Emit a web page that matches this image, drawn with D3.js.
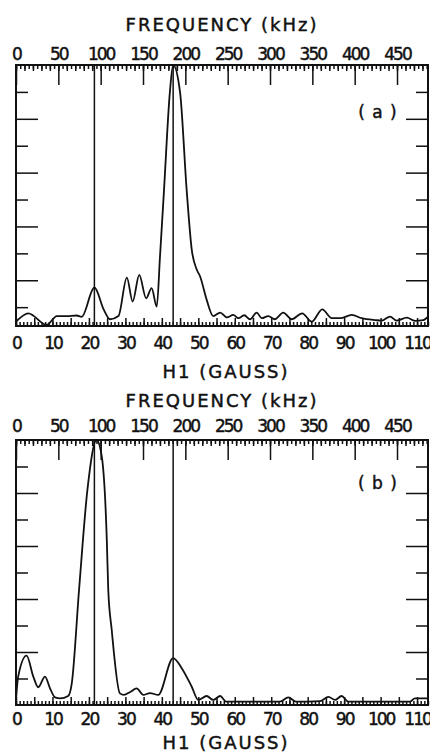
<!DOCTYPE html>
<meta charset="utf-8">
<script src="https://d3js.org/d3.v7.min.js"></script>
<style>
  body { margin: 0; background: #fff; }
  text { font-family: "DejaVu Sans", sans-serif; fill: #111; stroke: #111; stroke-width: 0.45px; }
</style>
<div id="chart"></div>
<script>

// tick labels
var freqTicks = [0, 50, 100, 150, 200, 250, 300, 350, 400, 450];
var h1Ticks = [0, 10, 20, 30, 40, 50, 60, 70, 80, 90, 100, 110];

// vertical marker lines (H1, gauss)
var markerH1 = [21.5, 43.1];

// panel (a): H1 (gauss) and relative amplitude
var aH1 = [0, 3.4, 8.4, 11.2, 13.9, 16.6, 18.0, 21.5, 24.1, 25.8, 28.1, 30.4, 32.0, 33.8, 35.7, 37.2, 38.6,
  39.5, 40.6, 42.2, 43.1, 45.0, 46.8, 48.2, 49.6, 50.5, 52.3, 54.1, 56.0, 57.8, 59.6, 61.0, 62.6, 64.2,
  66.0, 67.4, 69.2, 71.0, 73.3, 75.6, 78.5, 81.1, 84.0, 86.6, 88.9, 92.1, 94.8, 98.5, 100.3, 102.6,
  104.4, 107.2, 109.4, 111.7, 113];
var aAmp = [0.046, 0.077, 0.034, 0.067, 0.067, 0.069, 0.064, 0.173, 0.09, 0.055, 0.067, 0.21, 0.121, 0.22, 0.133, 0.171, 0.102,
  0.289, 0.537, 0.898, 1.0, 0.898, 0.537, 0.314, 0.239, 0.214, 0.127, 0.067, 0.08, 0.062, 0.071, 0.059, 0.07, 0.055,
  0.08, 0.059, 0.067, 0.055, 0.08, 0.055, 0.077, 0.046, 0.092, 0.059, 0.059, 0.071, 0.059, 0.052, 0.05, 0.065,
  0.05, 0.061, 0.049, 0.052, 0.065];

// panel (b)
var bH1 = [0, 0.6, 2.9, 4.75, 6.1, 7.95, 9.3, 10.7, 12.1, 14.3, 15.3, 17.3, 19.6, 22.1, 23.5, 24.9, 25.3, 26.25,
  28.5, 29.6, 31.3, 33.1, 34.9, 36.75, 39.0, 43.1, 45.45, 48.2, 50.0, 52.3, 54.1, 56.0, 57.6, 72.4, 74.7, 76.8,
  83.4, 85.7, 87.5, 89.3, 91.1, 108.1, 109.4, 113];
var bAmp = [0.02, 0.107, 0.186, 0.107, 0.067, 0.107, 0.064, 0.029, 0.025, 0.034, 0.082, 0.436, 0.814, 1.0, 0.94, 0.625, 0.436, 0.284,
  0.044, 0.038, 0.049, 0.063, 0.038, 0.045, 0.038, 0.177, 0.139, 0.069, 0.019, 0.034, 0.019, 0.034, 0.013, 0.013, 0.029, 0.013,
  0.015, 0.031, 0.019, 0.034, 0.013, 0.013, 0.025, 0.025];

var W = 430, H = 752;
var svg = d3.select("#chart").append("svg")
  .attr("width", W).attr("height", H);

var x = d3.scaleLinear().domain([0, 113]).range([16, 428]);
var xf = d3.scaleLinear().domain([0, 486.6]).range([16, 428]);

var panels = [
  {tag: "( a )", h1: aH1, amp: aAmp, top: 65, bottom: 326, ymin: 0.03,
   titleY: 31, topPad: 5, botPad: 11, gaussY: 378, tagY: 118},
  {tag: "( b )", h1: bH1, amp: bAmp, top: 440, bottom: 705, ymin: 0,
   titleY: 407, topPad: 8, botPad: 8, gaussY: 749, tagY: 489}
];

function styleAxis(g) {
  g.select(".domain").remove();
  g.selectAll("line").attr("stroke", "#111").attr("stroke-width", 1.5);
  g.selectAll("text")
    .style("font-family", "DejaVu Sans, sans-serif")
    .style("font-size", "17px")
    .style("letter-spacing", "-2px")
    .attr("fill", "#111");
}

panels.forEach(function(p) {
  var y = d3.scaleLinear().domain([p.ymin, 1]).range([p.bottom, p.top]);
  var g = svg.append("g");

  // top frequency axis: 5 kHz, 10 kHz and 50 kHz ticks hanging inside
  g.append("g").attr("transform", "translate(0," + p.top + ")")
    .call(d3.axisTop(xf).tickValues(d3.range(0, 487, 5)).tickSize(-4).tickFormat(""))
    .call(styleAxis);
  g.append("g").attr("transform", "translate(0," + p.top + ")")
    .call(d3.axisTop(xf).tickValues(d3.range(0, 487, 10)).tickSize(-6).tickFormat(""))
    .call(styleAxis);
  g.append("g").attr("transform", "translate(0," + p.top + ")")
    .call(d3.axisTop(xf).tickValues(freqTicks).tickSizeInner(-20).tickSizeOuter(0).tickPadding(p.topPad))
    .call(styleAxis);

  // bottom H1 axis
  g.append("g").attr("transform", "translate(0," + p.bottom + ")")
    .call(d3.axisBottom(x).tickValues(d3.range(0, 113.5, 1)).tickSize(-4).tickFormat(""))
    .call(styleAxis);
  g.append("g").attr("transform", "translate(0," + p.bottom + ")")
    .call(d3.axisBottom(x).tickValues(d3.range(0, 113.5, 5)).tickSize(-8).tickFormat(""))
    .call(styleAxis);
  g.append("g").attr("transform", "translate(0," + p.bottom + ")")
    .call(d3.axisBottom(x).tickValues(h1Ticks).tickSize(0).tickPadding(p.botPad))
    .call(styleAxis);

  // left and right amplitude ticks (no labels)
  var shortT = [0.1, 0.3, 0.5, 0.7, 0.9], longT = [0.2, 0.4, 0.6, 0.8];
  [[shortT, 12], [longT, 22]].forEach(function(t) {
    g.append("g").attr("transform", "translate(" + x.range()[0] + ",0)")
      .call(d3.axisLeft(y).tickValues(t[0]).tickSize(-t[1]).tickFormat(""))
      .call(styleAxis);
    g.append("g").attr("transform", "translate(" + x.range()[1] + ",0)")
      .call(d3.axisRight(y).tickValues(t[0]).tickSize(-t[1]).tickFormat(""))
      .call(styleAxis);
  });
  g.selectAll("g").filter(function() { return false; });

  // frame
  g.append("rect")
    .attr("x", x.range()[0]).attr("y", p.top)
    .attr("width", x.range()[1] - x.range()[0]).attr("height", p.bottom - p.top)
    .attr("fill", "none").attr("stroke", "#111").attr("stroke-width", 2);

  // marker lines
  g.selectAll(".marker").data(markerH1).enter().append("line")
    .attr("x1", function(d) { return x(d); }).attr("x2", function(d) { return x(d); })
    .attr("y1", p.top).attr("y2", p.bottom)
    .attr("stroke", "#111").attr("stroke-width", 1.5);

  // spectrum
  var pts = p.h1.map(function(d, i) { return [d, p.amp[i]]; });
  g.append("path").datum(pts)
    .attr("fill", "none").attr("stroke", "#111").attr("stroke-width", 1.8)
    .attr("stroke-linejoin", "round")
    .attr("d", d3.line()
      .x(function(d) { return x(d[0]); })
      .y(function(d) { return y(d[1]); })
      .curve(d3.curveMonotoneX));

  // titles
  g.append("text").attr("x", 222).attr("y", p.titleY)
    .attr("text-anchor", "middle")
    .style("font-size", "18px").style("letter-spacing", "2px")
    .text("FREQUENCY (kHz)");
  g.append("text").attr("x", 226).attr("y", p.gaussY)
    .attr("text-anchor", "middle")
    .style("font-size", "18px").style("letter-spacing", "2px")
    .text("H1 (GAUSS)");
  g.append("text").attr("x", 378).attr("y", p.tagY)
    .attr("text-anchor", "middle")
    .style("font-size", "17px").style("letter-spacing", "1px")
    .style("white-space", "pre")
    .text(p.tag);
});

</script>
